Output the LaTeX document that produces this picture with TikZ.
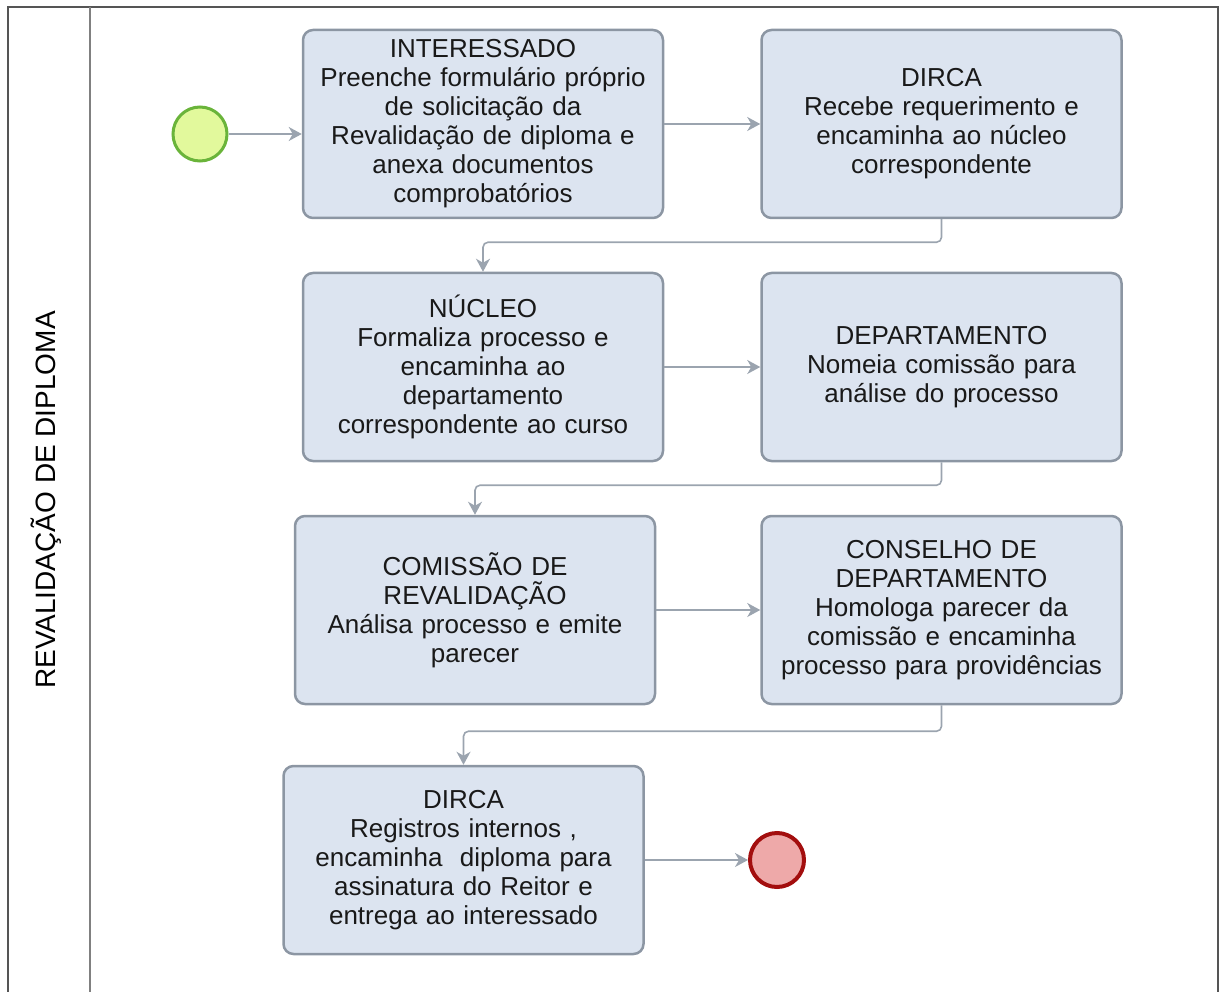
\documentclass[tikz,border=0pt]{standalone}
\usepackage{fontspec}
\setmainfont{Liberation Sans}
\usetikzlibrary{%
  positioning
 ,arrows.meta
 ,calc
}
\definecolor{actfill}{HTML}{DCE4F0}
\definecolor{actline}{HTML}{8C96A3}
\definecolor{flowline}{HTML}{9BA4AF}
\definecolor{startfill}{HTML}{E2F99C}
\definecolor{startline}{HTML}{6AB43A}
\definecolor{endfill}{HTML}{EEA9A9}
\definecolor{endline}{HTML}{A30E0E}
\definecolor{poolline}{HTML}{555555}
\tikzstyle{act}=[rectangle,rounded corners=10pt,draw=actline,line width=2.5pt,fill=actfill,minimum width=360pt,minimum height=188pt,text width=352pt,align=center,inner sep=0pt,text=black!90]
\tikzstyle{ev}=[circle,minimum size=54pt,inner sep=0pt]
\tikzstyle{flow}=[-{Stealth[length=13pt,width=14pt,inset=4pt]},draw=flowline,line width=1.6pt,rounded corners=5pt]

\begin{document}
\begin{tikzpicture}[x=1pt,y=-1pt,font=\fontsize{26}{29}\selectfont]
  \useasboundingbox (0,0) rectangle (1220,992);
  \draw[poolline,line width=1.5pt] (8,992) -- (8,7) -- (1218,7) -- (1218,992);
  \draw[gray,line width=2pt] (90,7) -- (90,992);
  \node[rotate=90,font=\fontsize{28}{30}\selectfont] (lane) at (46,500) {REVALIDAÇÃO DE DIPLOMA};
%
  \node[ev,draw=startline,fill=startfill,line width=3pt] (start) at (200,134) {};
  \node[act] (int)      at (483,124)   {INTERESSADO\\Preenche formulário próprio\\de solicitação da\\Revalidação de diploma e\\anexa documentos\\comprobatórios};
  \node[act] (dirca)    at (941.5,124) {DIRCA\\Recebe requerimento e\\encaminha ao núcleo\\correspondente};
  \node[act] (nucleo)   at (483,367)   {NÚCLEO\\Formaliza processo e\\encaminha ao\\departamento\\correspondente ao curso};
  \node[act] (depto)    at (941.5,367) {DEPARTAMENTO\\Nomeia comissão para\\análise do processo};
  \node[act] (comissao) at (475,610)   {COMISSÃO DE\\REVALIDAÇÃO\\Análisa processo e emite\\parecer};
  \node[act] (conselho) at (941.5,610) {CONSELHO DE\\DEPARTAMENTO\\Homologa parecer da\\comissão e encaminha\\processo para providências};
  \node[act] (dirca2)   at (463.5,860) {DIRCA\\Registros internos ,\\encaminha\ \ diploma para\\assinatura do Reitor e\\entrega ao interessado};
  \node[ev,draw=endline,fill=endfill,line width=4pt] (stop) at (777,860) {};
%
  \draw[flow] (start) -- (start -| int.west);
  \draw[flow] (int) -- (dirca);
  \draw[flow] (dirca.south) -- ++(0,23) -| (nucleo.north);
  \draw[flow] (nucleo) -- (depto);
  \draw[flow] (depto.south) -- ++(0,23) -| (comissao.north);
  \draw[flow] (comissao) -- (conselho);
  \draw[flow] (conselho.south) -- ++(0,26) -| (dirca2.north);
  \draw[flow] (dirca2) -- (stop);
\end{tikzpicture}
\end{document}
